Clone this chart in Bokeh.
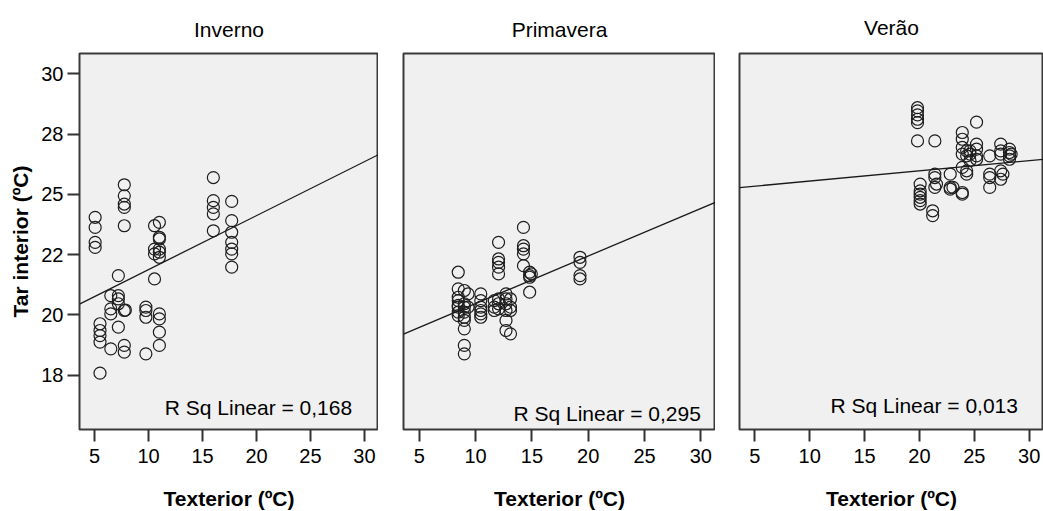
from bokeh.plotting import figure
from bokeh.models import Range1d, FixedTicker, Label
from bokeh.layouts import row
from bokeh.embed import file_html
from bokeh.resources import INLINE

# ---------------- data ----------------
seasons = ["Inverno", "Primavera", "Verão"]

inverno_x = [5.05]*4 + [5.5]*5 + [6.5]*4 + [7.2]*5 + [7.75]*8 + [7.85] + [9.75]*4 + [10.55]*4 + [11.0]*10 + [16.0]*5 + [17.7]*7
inverno_y = [24.05, 23.63, 23.01, 22.8,
             19.63, 19.35, 19.14, 18.87, 17.58,
             20.8, 20.25, 20.04, 18.59,
             21.63, 20.8, 20.66, 20.46, 19.49,
             25.4, 24.94, 24.6, 24.46, 23.7, 20.18, 18.73, 18.45,
             20.2,
             20.32, 20.18, 19.9, 18.38,
             23.7, 22.73, 22.53, 21.49,
             23.84, 23.22, 23.15, 22.73, 22.6, 22.39, 20.04, 19.83, 19.28, 18.73,
             25.7, 24.74, 24.46, 24.19, 23.49,
             24.71, 23.91, 23.43, 23.01, 22.73, 22.53, 21.98]

primavera_x = [8.46]*8 + [9.0]*9 + [9.33]*2 + [10.46]*6 + [11.66]*3 + [12.04]*8 + [12.7]*6 + [13.1]*4 + [14.25]*5 + [14.8]*4 + [14.95] + [19.27]*4
primavera_y = [21.77, 21.08, 20.73, 20.59, 20.39, 20.32, 20.11, 19.97,
               21.01, 20.46, 20.32, 20.11, 19.9, 19.77, 19.42, 18.73, 18.38,
               20.87, 20.32,
               20.87, 20.59, 20.32, 20.18, 20.04, 19.9,
               20.59, 20.32, 20.18,
               23.01, 22.32, 22.18, 21.98, 21.7, 20.66, 20.46, 20.25,
               20.87, 20.66, 20.46, 20.18, 19.77, 19.35,
               20.66, 20.32, 20.18, 19.21,
               23.63, 22.87, 22.73, 22.53, 22.04,
               21.77, 21.63, 21.56, 20.94,
               21.7,
               22.39, 22.18, 21.63, 21.49]

verao_x = [19.82]*6 + [20.06]*6 + [21.2]*2 + [21.4]*4 + [21.55] + [22.8]*3 + [23.05] + [23.9]*7 + [24.3]*4 + [24.6]*3 + [25.2]*5 + [26.4]*4 + [27.4]*5 + [27.6] + [28.2]*4 + [28.35]
verao_y = [28.6, 28.47, 28.3, 28.12, 27.98, 27.22,
           25.43, 25.15, 25.01, 24.88, 24.74, 24.6,
           24.32, 24.12,
           27.22, 25.84, 25.7, 25.29,
           25.43,
           25.84, 25.29, 25.22,
           25.29,
           27.57, 27.29, 26.95, 26.67, 26.12, 25.08, 25.01,
           26.81, 26.6, 25.98, 25.84,
           26.81, 26.67, 26.4,
           28.0, 27.09, 26.88, 26.6, 26.46,
           26.6, 25.84, 25.7, 25.29,
           27.09, 26.81, 26.67, 25.98, 25.63,
           25.84,
           26.88, 26.74, 26.6, 26.46,
           26.67]

fit_intercepts = [19.64, 18.49, 25.13]
fit_slopes = [0.224, 0.1976, 0.0424]
r_squared = ["0,168", "0,295", "0,013"]

x_ticks = [5, 10, 15, 20, 25, 30]
y_ticks = [17.5, 20, 22.5, 25, 27.5, 30]
y_tick_labels = ["18", "20", "22", "25", "28", "30"]

x_label = "Texterior (ºC)"
y_label = "Tar interior (ºC)"

# ---------------- layout / style ----------------
X_MIN, X_MAX = 3.6, 31.3
Y_MIN, Y_MAX = 15.24, 30.85
FONT = "Liberation Sans"

frame_widths = [299, 312, 304]
left_borders = [79, 25, 24]
title_standoffs = [22, 21, 26]
label_pos = [(28.86, 16.15), (30.0, 15.9), (28.97, 16.24)]

all_x = [inverno_x, primavera_x, verao_x]
all_y = [inverno_y, primavera_y, verao_y]

figs = []
for i, name in enumerate(seasons):
    p = figure(frame_width=frame_widths[i], frame_height=376,
               x_range=Range1d(X_MIN, X_MAX), y_range=Range1d(Y_MIN, Y_MAX),
               output_backend="svg", toolbar_location=None,
               min_border_left=left_borders[i], min_border_right=0,
               min_border_top=53, min_border_bottom=82)
    p.background_fill_color = "#f0f0f0"
    p.border_fill_color = "white"
    p.outline_line_color = "#3a3a3a"
    p.outline_line_width = 2
    p.xgrid.visible = False
    p.ygrid.visible = False

    p.title.text = name
    p.title.align = "center"
    p.title.vertical_align = "top"
    p.title.text_font = FONT
    p.title.text_font_size = "21px"
    p.title.text_font_style = "normal"
    p.title.text_color = "black"
    p.title.standoff = title_standoffs[i]

    xa = p.xaxis[0]
    xa.ticker = FixedTicker(ticks=x_ticks)
    xa.axis_line_color = None
    xa.major_tick_line_color = "#333333"
    xa.major_tick_line_width = 2
    xa.major_tick_out = 12
    xa.major_tick_in = 0
    xa.minor_tick_line_color = None
    xa.major_label_text_font = FONT
    xa.major_label_text_font_size = "20px"
    xa.major_label_text_color = "black"
    xa.major_label_standoff = 7
    xa.axis_label = x_label
    xa.axis_label_text_font = FONT
    xa.axis_label_text_font_size = "21px"
    xa.axis_label_text_font_style = "bold"
    xa.axis_label_text_color = "black"
    xa.axis_label_standoff = 21

    if i == 0:
        ya = p.yaxis[0]
        ya.ticker = FixedTicker(ticks=y_ticks)
        ya.major_label_overrides = {t: l for t, l in zip(y_ticks, y_tick_labels)}
        ya.axis_line_color = None
        ya.major_tick_line_color = "#333333"
        ya.major_tick_line_width = 2
        ya.major_tick_out = 12
        ya.major_tick_in = 0
        ya.minor_tick_line_color = None
        ya.major_label_text_font = FONT
        ya.major_label_text_font_size = "20px"
        ya.major_label_text_color = "black"
        ya.major_label_standoff = 4
        ya.axis_label = y_label
        ya.axis_label_text_font = FONT
        ya.axis_label_text_font_size = "21px"
        ya.axis_label_text_font_style = "bold"
        ya.axis_label_text_color = "black"
        ya.axis_label_standoff = 6
    else:
        p.yaxis.visible = False

    # regression line from fitted coefficients
    lx = [X_MIN, X_MAX]
    ly = [fit_intercepts[i] + fit_slopes[i] * v for v in lx]
    p.line(lx, ly, line_color="#1a1a1a", line_width=1.3)

    p.scatter(all_x[i], all_y[i], marker="circle", size=12,
              fill_color=None, line_color="#1e1e1e", line_width=1.2)

    p.add_layout(Label(x=label_pos[i][0], y=label_pos[i][1],
                       text="R Sq Linear = " + r_squared[i],
                       text_align="right", text_baseline="middle",
                       text_font=FONT, text_font_size="21px", text_color="black"))
    figs.append(p)

layout = row(*figs, spacing=0)
open("out.html", "w").write(file_html(layout, INLINE))
